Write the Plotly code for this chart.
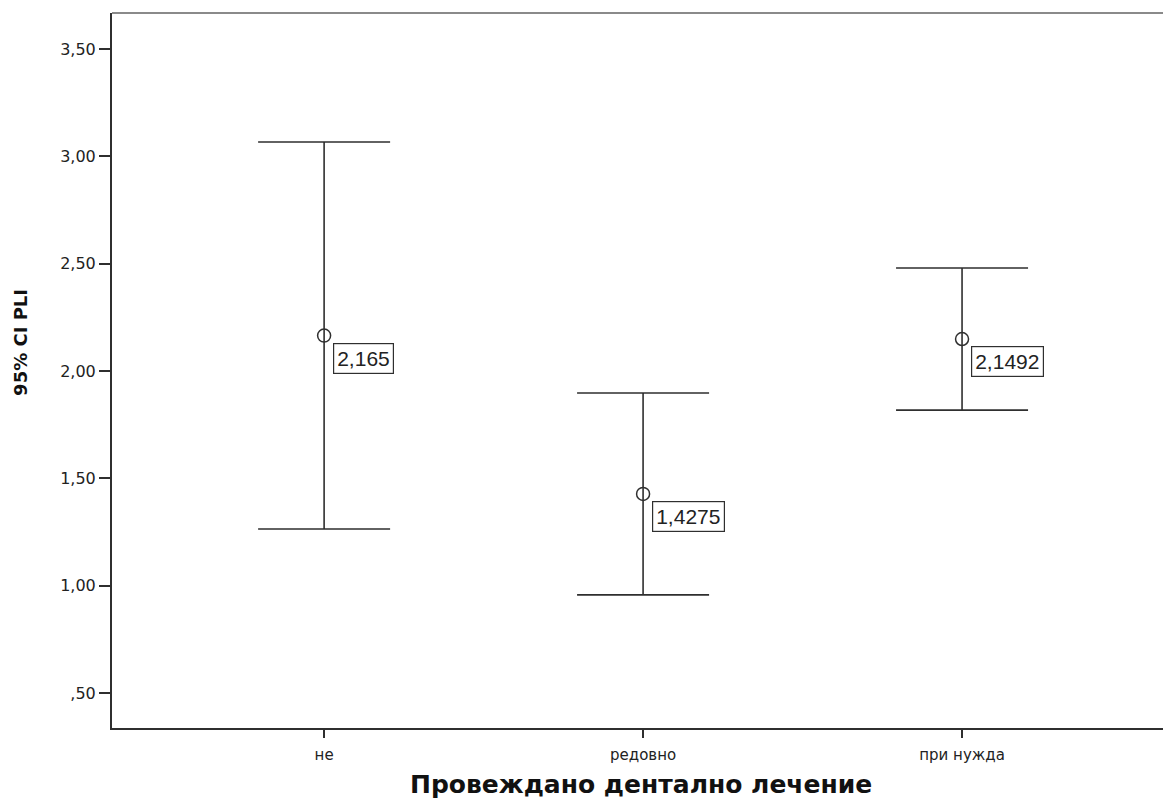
import plotly.graph_objects as go

# Mean PLI and 95% confidence limits by dental treatment group
categories = ["не", "редовно", "при нужда"]
means = [2.165, 1.4275, 2.1492]
ci_upper = [3.067, 1.898, 2.480]
ci_lower = [1.264, 0.957, 1.818]

y_tick_vals = [0.5, 1.0, 1.5, 2.0, 2.5, 3.0, 3.5]
y_tick_text = [",50", "1,00", "1,50", "2,00", "2,50", "3,00", "3,50"]

x_pos = list(range(len(categories)))
err_plus = [u - m for u, m in zip(ci_upper, means)]
err_minus = [m - l for m, l in zip(means, ci_lower)]

ink = "#2f2f2f"
title_font = "DejaVu Sans, Verdana, sans-serif"

fig = go.Figure()
fig.add_trace(go.Scatter(
    x=x_pos,
    y=means,
    mode="markers",
    marker=dict(symbol="circle-open", size=13, color=ink, line=dict(width=1.5, color=ink)),
    error_y=dict(
        type="data",
        symmetric=False,
        array=err_plus,
        arrayminus=err_minus,
        color=ink,
        thickness=1.6,
        width=66,
    ),
    showlegend=False,
    hoverinfo="skip",
))

# Value labels next to each mean
for xi, m in zip(x_pos, means):
    fig.add_annotation(
        x=xi, y=m,
        text=str(m).replace(".", ","),
        showarrow=False,
        xanchor="left", yanchor="top",
        xshift=9, yshift=-7,
        font=dict(family="Liberation Sans, Arial, sans-serif", size=21, color="#222"),
        bgcolor="white",
        bordercolor=ink,
        borderwidth=1.2,
        borderpad=3,
    )

# Gray frame line along the top of the plot area
fig.add_shape(
    type="line", xref="paper", yref="paper",
    x0=0, x1=1, y0=1, y1=1,
    line=dict(color="#8a8a8a", width=2),
)

# Axis titles
fig.add_annotation(
    xref="paper", yref="paper",
    x=-0.0866, y=0.54,
    text="<b>95% CI PLI</b>",
    textangle=-90,
    showarrow=False,
    xanchor="center", yanchor="middle",
    font=dict(family=title_font, size=18, color="#111"),
)
fig.add_annotation(
    xref="paper", yref="paper",
    x=0.503, y=-0.0797,
    text="<b>Провеждано дентално лечение</b>",
    showarrow=False,
    xanchor="center", yanchor="middle",
    font=dict(family=title_font, size=25, color="#111"),
)

fig.update_layout(
    width=1163,
    height=803,
    margin=dict(l=112, r=0, t=13, b=75),
    paper_bgcolor="white",
    plot_bgcolor="white",
    font=dict(family=title_font, size=15, color="#222"),
)

fig.update_xaxes(
    range=[-0.665, 2.63],
    tickvals=x_pos,
    ticktext=categories,
    showline=True, linecolor=ink, linewidth=2,
    ticks="outside", ticklen=8, tickwidth=1.5, tickcolor=ink,
    ticklabelstandoff=4,
    showgrid=False, zeroline=False,
    tickfont=dict(size=15),
    automargin=False,
)

fig.update_yaxes(
    range=[0.337, 3.668],
    tickvals=y_tick_vals,
    ticktext=y_tick_text,
    showline=True, linecolor=ink, linewidth=2,
    ticks="outside", ticklen=11, tickwidth=1.5, tickcolor=ink,
    showgrid=False, zeroline=False,
    tickfont=dict(size=16),
    automargin=False,
)

fig.write_html("out.html")
